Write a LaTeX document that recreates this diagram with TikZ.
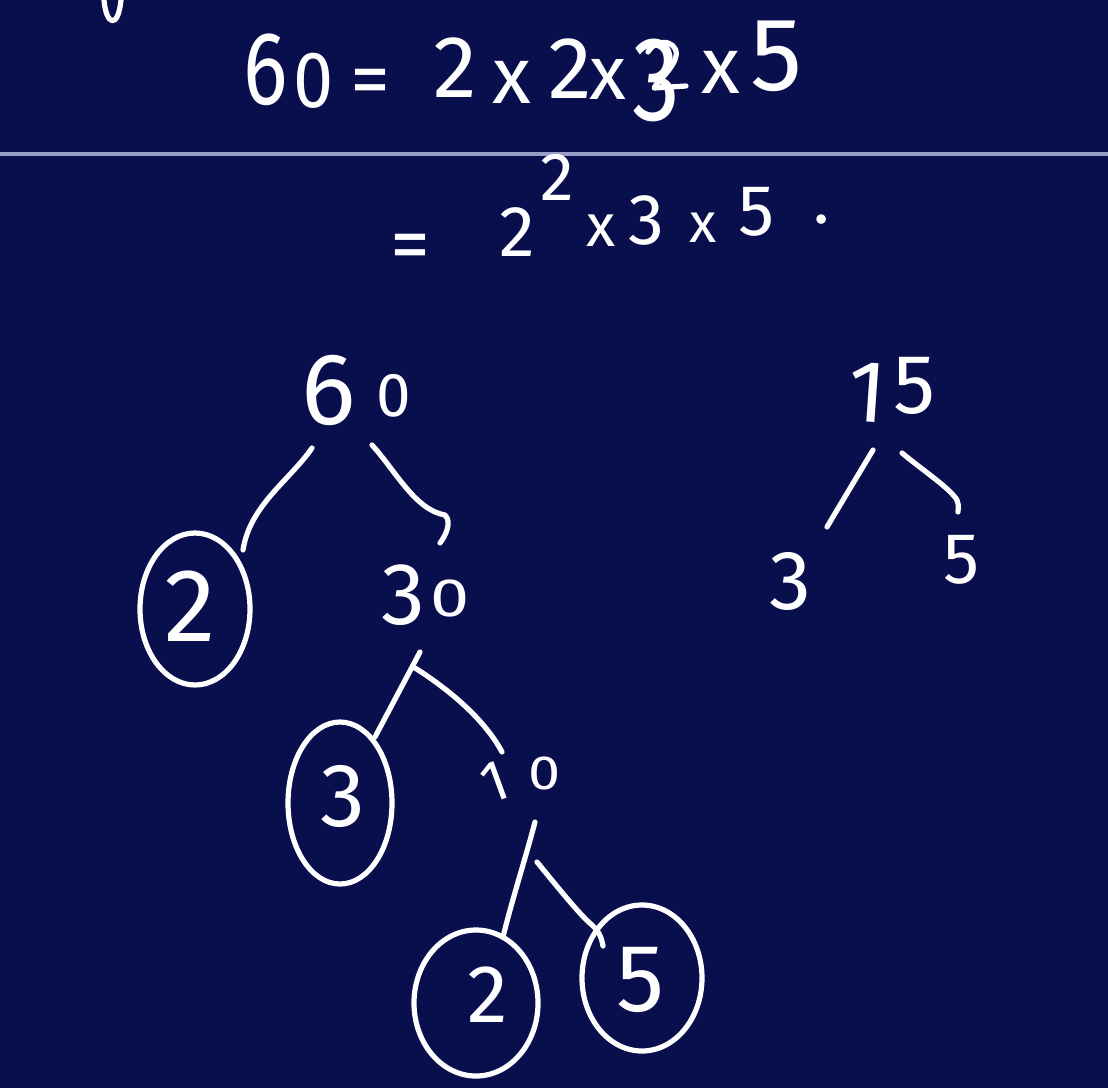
\documentclass[tikz,border=0pt]{standalone}
\usepackage{fontspec}
\setmainfont{Fira Sans}
\usetikzlibrary{shapes.geometric}
\definecolor{board}{RGB}{9,15,77}
\definecolor{rule}{RGB}{150,158,198}
\tikzset{
  dig/.style={text=white, inner sep=0pt, font=\fontsize{#1}{#1}\selectfont},
  pen/.style={white, line width=2.6pt, line cap=round, line join=round},
  ring/.style={ellipse, draw=white, line width=2.6pt, inner sep=0pt}
}
\begin{document}
\begin{tikzpicture}[x=0.5pt,y=-0.5pt]
\fill[board] (0,0) rectangle (1108,1088);
\useasboundingbox (0,0) rectangle (1108,1088);
% top-left stray mark
\draw[pen] (104,0) .. controls (106,25) and (118,30) .. (121,0);
% top equation
\node[dig=52, xscale=0.8] (t6) at (266,70) {6};
\node[dig=40, xscale=0.9] (t0) at (314,81) {0};
\node[dig=40] (teq) at (370,88) {=};
\node[dig=44] (t2a) at (455,68) {2};
\node[dig=40] (tx1) at (512,82) {x};
\node[dig=44] (t2b) at (570,69) {2};
\node[dig=38] (tx2) at (608,79) {x};
% overwritten 2 under the 3, drawn as a stroke
\draw[pen] (648,52) .. controls (658,35) and (684,42) .. (674,62)
  .. controls (667,75) and (657,82) .. (654,88) -- (686,86);
\node[dig=60, xscale=0.8] (t3) at (656,80) {3};
\node[dig=40] (tx3) at (721,72) {x};
\node[dig=52] (t5) at (777,56) {5};
% rule line
\draw[rule, line width=1.6pt] (0,154) -- (1108,154);
% second line
\node[dig=40] (seq) at (410,253) {=};
\node[dig=36] (s2) at (517,232) {2};
\node[dig=34] (ssup) at (557,177) {2};
\node[dig=30] (sx1) at (601,231) {x};
\node[dig=36] (s3) at (646,220) {3};
\node[dig=28] (sx2) at (703,228) {x};
\node[dig=36] (s5) at (757,212) {5};
\node[dig=34] (sdot) at (822,220) {.};
% tree of 60
\node[dig=51] (a6) at (329,390) {6};
\node[dig=31] (a0) at (394,396) {0};
\node[ring, minimum width=55pt, minimum height=76pt] (c2) at (195,609) {};
\node[dig=52] (n2) at (190,606) {2};
\node[dig=44] (b3) at (403,595) {3};
\node[dig=27, xscale=1.3] (b0) at (450,598) {0};
\node[ring, minimum width=52pt, minimum height=81pt] (c3) at (340,803) {};
\node[dig=45] (n3) at (343,796) {3};
\node[dig=29, rotate=20] (d1) at (495,782) {1};
\node[dig=24, xscale=1.2] (d0) at (545,773) {0};
\node[ring, minimum width=62pt, minimum height=73pt] (c2b) at (476,1003) {};
\node[dig=41] (n2b) at (488,995) {2};
\node[ring, minimum width=60pt, minimum height=73pt] (c5) at (642,978) {};
\node[dig=48] (n5) at (641,980) {5};
% connector ends
\coordinate (p1) at (312,448); \coordinate (q1) at (243,550);
\coordinate (p2) at (372,445); \coordinate (q2) at (440,543);
\coordinate (p3) at (420,652); \coordinate (q3) at (375,737);
\coordinate (p4) at (415,668); \coordinate (q4) at (502,752);
\coordinate (p5) at (535,822); \coordinate (q5) at (503,937);
\coordinate (p6) at (537,862); \coordinate (q6) at (603,946);
\draw[pen] (p1) .. controls (290,480) and (250,505) .. (q1);
\draw[pen] (p2) .. controls (395,470) and (415,510) .. (445,515) .. controls (452,522) and (446,535) .. (q2);
\draw[pen] (p3) -- (q3);
\draw[pen] (p4) .. controls (450,690) and (485,720) .. (q4);
\draw[pen] (p5) .. controls (525,860) and (512,900) .. (q5);
\draw[pen] (p6) .. controls (560,890) and (580,915) .. (592,925) .. controls (600,932) and (602,940) .. (q6);
% tree of 15
\node[dig=44, rotate=-4] (f1) at (868,392) {1};
\node[dig=42] (f5) at (915,386) {5};
\node[dig=42] (g3) at (790,581) {3};
\node[dig=36] (g5) at (962,560) {5};
\coordinate (p7) at (873,450); \coordinate (q7) at (827,527);
\coordinate (p8) at (902,453); \coordinate (q8) at (958,512);
\draw[pen] (p7) .. controls (855,480) and (840,505) .. (q7);
\draw[pen] (p8) .. controls (920,468) and (945,485) .. (954,496) .. controls (960,502) and (958,508) .. (q8);
\end{tikzpicture}
\end{document}
